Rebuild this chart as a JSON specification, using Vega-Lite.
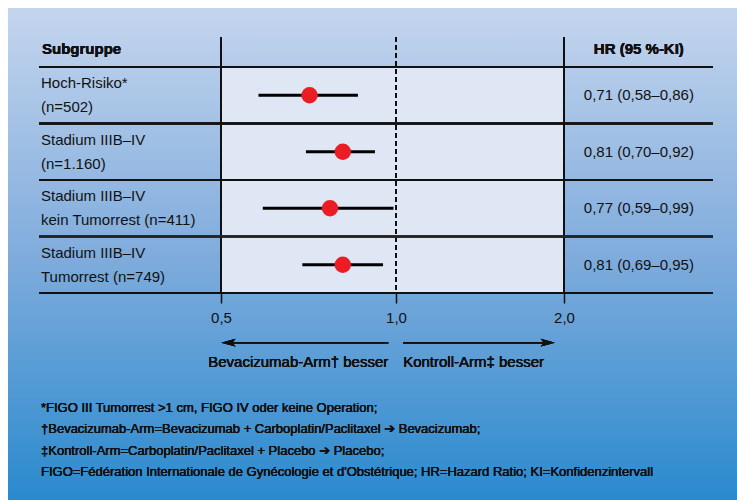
{
  "$schema": "https://vega.github.io/schema/vega-lite/v6.json",
  "width": 729,
  "height": 492,
  "autosize": {"type": "none"},
  "padding": {"left": 8, "top": 8, "right": 0, "bottom": 0},
  "background": "white",
  "view": {
    "stroke": null,
    "fill": {
      "gradient": "linear", "x1": 0, "y1": 0, "x2": 0, "y2": 1,
      "stops": [
        {"offset": 0, "color": "#c4d5ee"},
        {"offset": 0.5, "color": "#80acdc"},
        {"offset": 1, "color": "#2a8ace"}
      ]
    }
  },
  "config": {
    "font": "Liberation Sans, DejaVu Sans",
    "text": {"font": "Liberation Sans, DejaVu Sans", "color": "#111111"}
  },
  "data": {
    "values": [
      {"row": 1, "label": "Hoch-Risiko*\n(n=502)", "hr": 0.71, "lo": 0.58, "hi": 0.86, "hr_text": "0,71 (0,58–0,86)"},
      {"row": 2, "label": "Stadium IIIB–IV\n(n=1.160)", "hr": 0.81, "lo": 0.70, "hi": 0.92, "hr_text": "0,81 (0,70–0,92)"},
      {"row": 3, "label": "Stadium IIIB–IV\nkein Tumorrest (n=411)", "hr": 0.77, "lo": 0.59, "hi": 0.99, "hr_text": "0,77 (0,59–0,99)"},
      {"row": 4, "label": "Stadium IIIB–IV\nTumorrest (n=749)", "hr": 0.81, "lo": 0.69, "hi": 0.95, "hr_text": "0,81 (0,69–0,95)"}
    ]
  },
  "resolve": {"scale": {"x": "independent"}, "axis": {"x": "independent"}},
  "layer": [
    {
      "mark": {"type": "rect", "fill": "#dfe6f4"},
      "encoding": {
        "x": {"datum": 0.5, "type": "quantitative", "scale": {"type": "log", "domain": [0.5, 1, 2], "range": [213, 388, 556]}, "axis": null},
        "x2": {"datum": 2},
        "y": {"datum": 0.5, "type": "quantitative", "scale": {"type": "linear", "domain": [0.5, 4.5], "range": [59, 285], "nice": false, "zero": false}, "axis": null},
        "y2": {"datum": 4.5}
      }
    },
    {
      "mark": {"type": "rule", "color": "#111111", "strokeWidth": 1.5},
      "encoding": {
        "x": {"datum": 0.5, "type": "quantitative", "scale": {"type": "log", "domain": [0.5, 1, 2], "range": [213, 388, 556]}, "axis": null},
        "y": {"datum": -0.03, "type": "quantitative", "axis": null},
        "y2": {"datum": 4.5}
      }
    },
    {
      "mark": {"type": "rule", "color": "#111111", "strokeWidth": 1.5},
      "encoding": {
        "x": {"datum": 2, "type": "quantitative", "scale": {"type": "log", "domain": [0.5, 1, 2], "range": [213, 388, 556]}, "axis": null},
        "y": {"datum": -0.03, "type": "quantitative", "axis": null},
        "y2": {"datum": 4.5}
      }
    },
    {
      "mark": {"type": "rule", "color": "#111111", "strokeWidth": 1.5, "strokeDash": [5, 3]},
      "encoding": {
        "x": {"datum": 1, "type": "quantitative", "scale": {"type": "log", "domain": [0.5, 1, 2], "range": [213, 388, 556]}, "axis": null},
        "y": {"datum": -0.03, "type": "quantitative", "axis": null},
        "y2": {"datum": 4.5}
      }
    },
    {
      "mark": {"type": "rule", "color": "#111111", "strokeWidth": 2},
      "encoding": {
        "x": {"datum": 0, "type": "quantitative", "scale": {"type": "linear", "domain": [0, 1], "range": [31, 705], "nice": false, "zero": false}, "axis": null},
        "x2": {"datum": 1},
        "y": {"datum": 0.5, "type": "quantitative", "axis": null}
      }
    },
    {
      "mark": {"type": "rule", "color": "#111111", "strokeWidth": 2},
      "encoding": {
        "x": {"datum": 0, "type": "quantitative", "scale": {"type": "linear", "domain": [0, 1], "range": [31, 705], "nice": false, "zero": false}, "axis": null},
        "x2": {"datum": 1},
        "y": {"datum": 1.5, "type": "quantitative", "axis": null}
      }
    },
    {
      "mark": {"type": "rule", "color": "#111111", "strokeWidth": 2},
      "encoding": {
        "x": {"datum": 0, "type": "quantitative", "scale": {"type": "linear", "domain": [0, 1], "range": [31, 705], "nice": false, "zero": false}, "axis": null},
        "x2": {"datum": 1},
        "y": {"datum": 2.5, "type": "quantitative", "axis": null}
      }
    },
    {
      "mark": {"type": "rule", "color": "#222222", "strokeWidth": 2},
      "encoding": {
        "x": {"datum": 0, "type": "quantitative", "scale": {"type": "linear", "domain": [0, 1], "range": [31, 705], "nice": false, "zero": false}, "axis": null},
        "x2": {"datum": 1},
        "y": {"datum": 3.5, "type": "quantitative", "axis": null}
      }
    },
    {
      "mark": {"type": "rule", "color": "#111111", "strokeWidth": 2},
      "encoding": {
        "x": {"datum": 0, "type": "quantitative", "scale": {"type": "linear", "domain": [0, 1], "range": [31, 705], "nice": false, "zero": false}, "axis": null},
        "x2": {"datum": 1},
        "y": {"datum": 4.5, "type": "quantitative", "axis": null}
      }
    },
    {
      "mark": {"type": "rule", "color": "#000000", "strokeWidth": 3},
      "encoding": {
        "x": {"field": "lo", "type": "quantitative", "scale": {"type": "log", "domain": [0.5, 1, 2], "range": [213, 388, 556]}, "axis": null},
        "x2": {"field": "hi"},
        "y": {"field": "row", "type": "quantitative", "axis": null}
      }
    },
    {
      "mark": {"type": "point", "filled": true, "opacity": 1, "color": "#ec1c24", "size": 270, "shape": "circle"},
      "encoding": {
        "x": {
          "field": "hr", "type": "quantitative",
          "scale": {"type": "log", "domain": [0.5, 1, 2], "range": [213, 388, 556]},
          "axis": {
            "orient": "bottom", "offset": -207, "values": [0.5, 1, 2], "domain": false, "grid": false, "title": null,
            "ticks": true, "tickSize": 10, "tickWidth": 1.5, "tickColor": "#111111",
            "labelExpr": "replace(format(datum.value, '.1f'), '.', ',')",
            "labelFont": "Liberation Sans",
            "labelFontSize": 15, "labelColor": "#111111", "labelPadding": 7, "labelFlush": false, "labelOverlap": false
          }
        },
        "y": {"field": "row", "type": "quantitative", "axis": null}
      }
    },
    {
      "mark": {"type": "text", "align": "left", "baseline": "middle", "fontSize": 15, "lineHeight": 24, "lineBreak": "\n", "dx": 2, "dy": -12},
      "encoding": {
        "x": {"datum": 0, "type": "quantitative", "scale": {"type": "linear", "domain": [0, 1], "range": [31, 705], "nice": false, "zero": false}, "axis": null},
        "y": {"field": "row", "type": "quantitative", "axis": null},
        "text": {"field": "label"}
      }
    },
    {
      "mark": {"type": "text", "align": "center", "baseline": "middle", "fontSize": 15},
      "encoding": {
        "x": {"datum": 0.89, "type": "quantitative", "scale": {"type": "linear", "domain": [0, 1], "range": [31, 705], "nice": false, "zero": false}, "axis": null},
        "y": {"field": "row", "type": "quantitative", "axis": null},
        "text": {"field": "hr_text"}
      }
    },
    {
      "mark": {"type": "text", "align": "left", "baseline": "middle", "fontSize": 15, "fontWeight": "bold", "dx": 3},
      "encoding": {
        "x": {"datum": 0, "type": "quantitative", "scale": {"type": "linear", "domain": [0, 1], "range": [31, 705], "nice": false, "zero": false}, "axis": null},
        "y": {"datum": 0.18, "type": "quantitative", "axis": null},
        "text": {"value": "Subgruppe"}
      }
    },
    {
      "mark": {"type": "text", "align": "center", "baseline": "middle", "fontSize": 15, "fontWeight": "bold"},
      "encoding": {
        "x": {"datum": 0.89, "type": "quantitative", "scale": {"type": "linear", "domain": [0, 1], "range": [31, 705], "nice": false, "zero": false}, "axis": null},
        "y": {"datum": 0.18, "type": "quantitative", "axis": null},
        "text": {"value": "HR (95 %-KI)"}
      }
    },
    {
      "mark": {"type": "rule", "color": "#111111", "strokeWidth": 1.5},
      "encoding": {
        "x": {"datum": 0.51, "type": "quantitative", "scale": {"type": "log", "domain": [0.5, 1, 2], "range": [213, 388, 556]}, "axis": null},
        "x2": {"datum": 0.97},
        "y": {"datum": 5.38, "type": "quantitative", "axis": null}
      }
    },
    {
      "mark": {"type": "rule", "color": "#111111", "strokeWidth": 1.5},
      "encoding": {
        "x": {"datum": 1.03, "type": "quantitative", "scale": {"type": "log", "domain": [0.5, 1, 2], "range": [213, 388, 556]}, "axis": null},
        "x2": {"datum": 1.88},
        "y": {"datum": 5.38, "type": "quantitative", "axis": null}
      }
    },
    {
      "mark": {"type": "point", "filled": true, "opacity": 1, "color": "#111111", "size": 200, "shape": "M-1,0L1,-0.55L0.55,0L1,0.55Z"},
      "encoding": {
        "x": {"datum": 0.515, "type": "quantitative", "scale": {"type": "log", "domain": [0.5, 1, 2], "range": [213, 388, 556]}, "axis": null},
        "y": {"datum": 5.38, "type": "quantitative", "axis": null}
      }
    },
    {
      "mark": {"type": "point", "filled": true, "opacity": 1, "color": "#111111", "size": 200, "shape": "M1,0L-1,-0.55L-0.55,0L-1,0.55Z"},
      "encoding": {
        "x": {"datum": 1.87, "type": "quantitative", "scale": {"type": "log", "domain": [0.5, 1, 2], "range": [213, 388, 556]}, "axis": null},
        "y": {"datum": 5.38, "type": "quantitative", "axis": null}
      }
    },
    {
      "mark": {"type": "text", "align": "right", "baseline": "middle", "fontSize": 15},
      "encoding": {
        "x": {"datum": 0.97, "type": "quantitative", "scale": {"type": "log", "domain": [0.5, 1, 2], "range": [213, 388, 556]}, "axis": null},
        "y": {"datum": 5.73, "type": "quantitative", "axis": null},
        "text": {"value": "Bevacizumab-Arm† besser"}
      }
    },
    {
      "mark": {"type": "text", "align": "left", "baseline": "middle", "fontSize": 15},
      "encoding": {
        "x": {"datum": 1.03, "type": "quantitative", "scale": {"type": "log", "domain": [0.5, 1, 2], "range": [213, 388, 556]}, "axis": null},
        "y": {"datum": 5.73, "type": "quantitative", "axis": null},
        "text": {"value": "Kontroll-Arm‡ besser"}
      }
    },
    {
      "mark": {"type": "text", "align": "left", "baseline": "middle", "fontSize": 13, "lineHeight": 21.5, "lineBreak": "\n", "dx": 2},
      "encoding": {
        "x": {"datum": 0, "type": "quantitative", "scale": {"type": "linear", "domain": [0, 1], "range": [31, 705], "nice": false, "zero": false}, "axis": null},
        "y": {"datum": 6.535, "type": "quantitative", "axis": null},
        "text": {"value": "*FIGO III Tumorrest >1 cm, FIGO IV oder keine Operation;\n†Bevacizumab-Arm=Bevacizumab + Carboplatin/Paclitaxel  ➔ Bevacizumab;\n‡Kontroll-Arm=Carboplatin/Paclitaxel + Placebo ➔ Placebo;\nFIGO=Fédération Internationale de Gynécologie et d'Obstétrique; HR=Hazard Ratio; KI=Konfidenzintervall"}
      }
    }
  ]
}
